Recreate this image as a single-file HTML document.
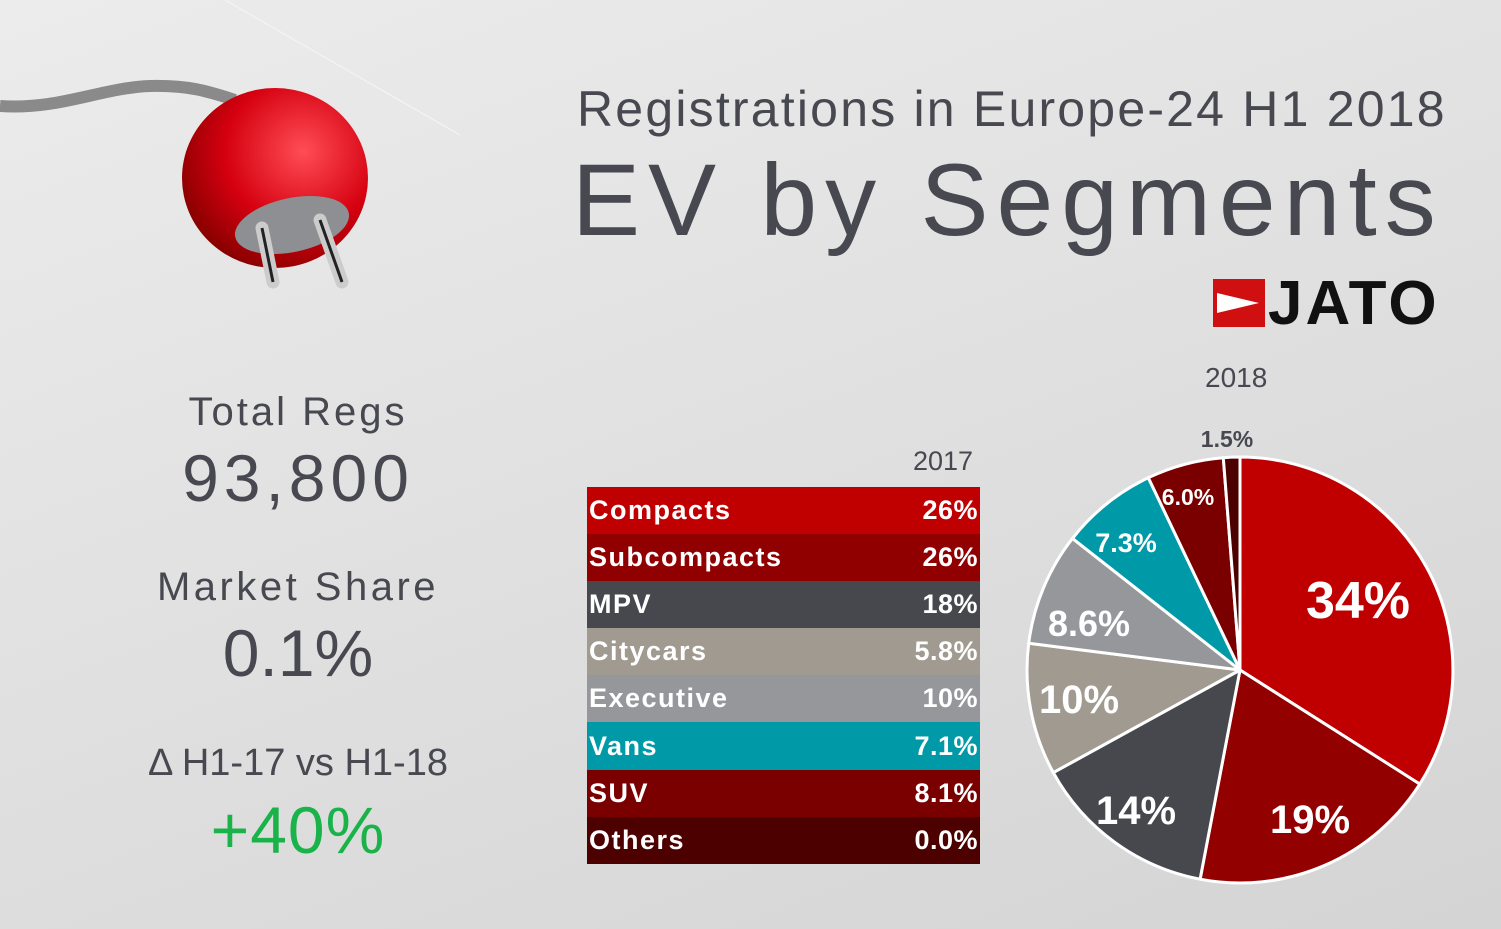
<!DOCTYPE html>
<html><head><meta charset="utf-8"><style>
body{margin:0;width:1501px;height:929px;overflow:hidden;font-family:"Liberation Sans",sans-serif;background:linear-gradient(160deg,#ececec 0%,#e0e0e0 50%,#d4d4d4 100%);position:relative;color:#474850}
.a{position:absolute;white-space:nowrap}
.c{text-align:center;width:400px;left:98px}
table{position:absolute;left:587px;top:487px;width:393px;border-collapse:collapse;color:#fff;font-size:27px;letter-spacing:1.5px;font-weight:bold}
td{height:47.1px;padding:0 2px;line-height:47px}
td:last-child{text-align:right;letter-spacing:0.5px}
</style></head><body>
<svg class="a" style="left:0;top:0" width="480" height="310">
<line x1="225" y1="0" x2="460" y2="135" stroke="#f6f6f6" stroke-width="1"/>
<defs><radialGradient id="r" cx="0.65" cy="0.35" r="0.7"><stop offset="0" stop-color="#ff4d55"/><stop offset="0.6" stop-color="#d50010"/><stop offset="1" stop-color="#8a0000"/></radialGradient></defs>
<path d="M0,106 C60,110 100,88 150,86 C190,85 210,92 235,100" stroke="#8a8a8a" stroke-width="12" fill="none"/>
<ellipse cx="275" cy="178" rx="93" ry="90" fill="url(#r)"/>
<ellipse cx="292" cy="225" rx="58" ry="27" fill="#8e8f93" transform="rotate(-12 292 225)"/>
<line x1="262" y1="228" x2="273" y2="282" stroke="#ccc" stroke-width="13" stroke-linecap="round"/>
<line x1="320" y1="220" x2="342" y2="282" stroke="#ccc" stroke-width="13" stroke-linecap="round"/>
<line x1="262" y1="228" x2="273" y2="282" stroke="#222" stroke-width="3"/>
<line x1="320" y1="220" x2="342" y2="282" stroke="#222" stroke-width="3"/>
</svg>
<div class="a" style="left:577px;top:80px;font-size:50px;letter-spacing:2.2px">Registrations in Europe-24 H1 2018</div>
<div class="a" style="left:572px;top:142px;font-size:102px;letter-spacing:8px">EV by Segments</div>
<div class="a" style="left:1213px;top:279px;width:52px;height:48px;background:#d01010"></div>
<div class="a" style="left:1217px;top:293px;width:0;height:0;border-left:42px solid #fff;border-top:10px solid transparent;border-bottom:10px solid transparent"></div>
<div class="a" style="left:1268px;top:268px;font-size:62px;font-weight:bold;color:#111;letter-spacing:3px">JATO</div>
<div class="a c" style="top:390px;font-size:40px;letter-spacing:3px">Total Regs</div>
<div class="a c" style="top:440px;font-size:66px;letter-spacing:5px">93,800</div>
<div class="a c" style="top:565px;font-size:40px;letter-spacing:3.5px">Market Share</div>
<div class="a c" style="top:615px;font-size:66px;letter-spacing:0px">0.1%</div>
<div class="a c" style="top:742px;font-size:38px;letter-spacing:0px">Δ H1-17 vs H1-18</div>
<div class="a c" style="top:792px;font-size:66px;letter-spacing:1px;color:#1ab34a">+40%</div>
<div class="a" style="left:913px;top:446px;font-size:27px">2017</div>
<div class="a" style="left:1205px;top:362px;font-size:28px">2018</div>
<table>
<tr style="background:#c00000"><td>Compacts</td><td>26%</td></tr>
<tr style="background:#900000"><td>Subcompacts</td><td>26%</td></tr>
<tr style="background:#47484d"><td>MPV</td><td>18%</td></tr>
<tr style="background:#a09a90"><td>Citycars</td><td>5.8%</td></tr>
<tr style="background:#96979b"><td>Executive</td><td>10%</td></tr>
<tr style="background:#0099a8"><td>Vans</td><td>7.1%</td></tr>
<tr style="background:#7a0000"><td>SUV</td><td>8.1%</td></tr>
<tr style="background:#4d0000"><td>Others</td><td>0.0%</td></tr>
</table>
<svg class="a" style="left:0;top:0" width="1501" height="929">
<g stroke="#fff" stroke-width="3" stroke-linejoin="round">
<path d="M1240,670 L1240,457 A213,213 0 0 1 1419.8,784.1Z" fill="#c00000"/>
<path d="M1240,670 L1419.8,784.1 A213,213 0 0 1 1200.1,879.2Z" fill="#920000"/>
<path d="M1240,670 L1200.1,879.2 A213,213 0 0 1 1053.3,772.6Z" fill="#47484d"/>
<path d="M1240,670 L1053.3,772.6 A213,213 0 0 1 1028.7,643.3Z" fill="#a09a90"/>
<path d="M1240,670 L1028.7,643.3 A213,213 0 0 1 1072.5,538.4Z" fill="#96979b"/>
<path d="M1240,670 L1072.5,538.4 A213,213 0 0 1 1148.3,477.7Z" fill="#0099a8"/>
<path d="M1240,670 L1148.3,477.7 A213,213 0 0 1 1223.3,457.7Z" fill="#7a0000"/>
<path d="M1240,670 L1223.3,457.7 A213,213 0 0 1 1240,457Z" fill="#4d0000"/>
</g>
<g fill="#fff" font-family="Liberation Sans,sans-serif" text-anchor="middle" font-weight="bold">
<text x="1358" y="618" font-size="52">34%</text>
<text x="1310" y="833" font-size="40">19%</text>
<text x="1136" y="824" font-size="40">14%</text>
<text x="1079" y="713" font-size="40">10%</text>
<text x="1089" y="636" font-size="36">8.6%</text>
<text x="1126" y="552" font-size="27">7.3%</text>
<text x="1188" y="505" font-size="23">6.0%</text>
<text x="1227" y="447" font-size="23" fill="#474850">1.5%</text>
</g>
</svg>
</body></html>
